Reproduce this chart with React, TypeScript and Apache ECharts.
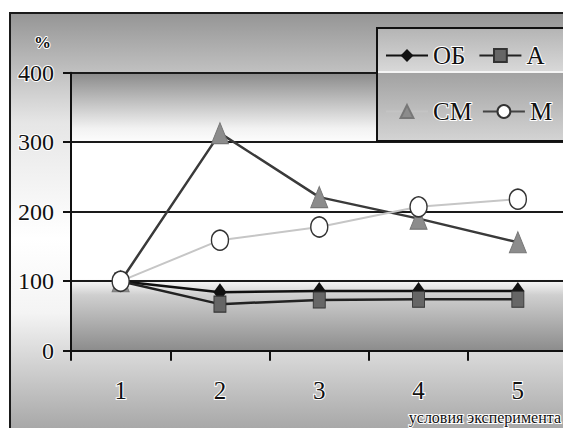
import React, { useEffect, useRef } from "react";
import * as echarts from "echarts";

const categories = ["1", "2", "3", "4", "5"];
const seriesNames = ["ОБ", "А", "СМ", "М"];
const obValues = [100, 84, 86, 86, 86];
const aValues = [100, 67, 73, 74, 74];
const smValues = [100, 313, 221, 190, 156];
const mValues = [100, 159, 178, 207, 218];
const yTicks = { min: 0, max: 400, interval: 100 };
const xAxisTitle = "условия эксперимента";
const yAxisTitle = "%";

const FONT = "'Liberation Serif', 'Times New Roman', serif";

export default function App() {
  const ref = useRef<HTMLDivElement>(null);
  useEffect(() => {
    document.body.style.margin = "0";
    const chart = echarts.init(ref.current!, null, { renderer: "svg" });
    chart.setOption({
      animation: false,
      graphic: [
        {
          type: "rect",
          z: -10,
          silent: true,
          shape: { x: 10, y: 13, width: 620, height: 500 },
          style: {
            fill: new echarts.graphic.LinearGradient(0, 0, 0, 1, [
              { offset: 0, color: "#959595" },
              { offset: 0.22, color: "#e6e6e6" },
              { offset: 0.45, color: "#ffffff" },
              { offset: 0.6, color: "#f4f4f4" },
              { offset: 0.83, color: "#a8a8a8" },
              { offset: 1, color: "#9a9a9a" },
            ]),
            stroke: "#1a1a1a",
            lineWidth: 2,
          },
        },
        {
          type: "rect",
          z: 3,
          silent: true,
          shape: { x: 377, y: 28, width: 260, height: 113 },
          style: {
            fill: new echarts.graphic.LinearGradient(0, 0, 0, 1, [
              { offset: 0, color: "#b4b4b4" },
              { offset: 0.38, color: "#d8d8d8" },
              { offset: 0.4, color: "#a2a2a2" },
              { offset: 1, color: "#d4d4d4" },
            ]),
            stroke: "#111",
            lineWidth: 2,
          },
        },
        {
          type: "line",
          z: 3,
          silent: true,
          shape: { x1: 378, y1: 72, x2: 563, y2: 72 },
          style: { stroke: "#f4f4f4", lineWidth: 2 },
        },
        {
          type: "text",
          z: 5,
          silent: true,
          x: 561,
          y: 417,
          style: {
            text: xAxisTitle,
            fontFamily: FONT,
            fontSize: 16,
            fill: "#111",
            align: "right",
            verticalAlign: "middle",
            stroke: "#fff",
            lineWidth: 2,
          },
        },
      ],
      legend: [
        {
          data: [seriesNames[0], seriesNames[1]],
          left: 380,
          top: 37,
          itemWidth: 42,
          itemHeight: 16,
          itemGap: 12,
          textStyle: { fontFamily: FONT, fontSize: 25, color: "#111", textBorderColor: "#fff", textBorderWidth: 2 },
        },
        {
          data: [
            { name: seriesNames[2], lineStyle: { color: "#c4c4c4" } },
            { name: seriesNames[3], lineStyle: { color: "#444" } },
          ],
          left: 380,
          top: 93,
          itemWidth: 42,
          itemHeight: 16,
          itemGap: 9,
          textStyle: { fontFamily: FONT, fontSize: 25, color: "#111", textBorderColor: "#fff", textBorderWidth: 2 },
        },
      ],
      grid: {
        left: 71,
        top: 72.7,
        right: -4.5,
        bottom: 77.3,
        outerBoundsMode: "none",
        containLabel: false,
        show: true,
        borderWidth: 0,
        backgroundColor: new echarts.graphic.LinearGradient(0, 0, 0, 1, [
          { offset: 0, color: "#8a8a8a" },
          { offset: 0.2, color: "#f2f2f2" },
          { offset: 0.26, color: "#ffffff" },
          { offset: 0.74, color: "#ffffff" },
          { offset: 0.8, color: "#cfcfcf" },
          { offset: 1, color: "#8c8c8c" },
        ]),
      },
      xAxis: {
        type: "category",
        data: categories,
        boundaryGap: true,
        axisLine: { show: true, lineStyle: { color: "#111", width: 2 } },
        axisTick: { show: true, length: 10, lineStyle: { color: "#111", width: 2 } },
        axisLabel: {
          fontFamily: FONT,
          fontSize: 25,
          color: "#111",
          margin: 27,
          textBorderColor: "#fff",
          textBorderWidth: 2,
        },
        splitLine: { show: false },
      },
      yAxis: {
        type: "value",
        min: yTicks.min,
        max: yTicks.max,
        interval: yTicks.interval,
        name: yAxisTitle,
        nameLocation: "end",
        nameGap: 30,
        nameTextStyle: {
          fontFamily: FONT,
          fontSize: 17,
          fontWeight: "bold",
          color: "#111",
          align: "right",
          verticalAlign: "middle",
          padding: [0, 20, 0, 0],
          textBorderColor: "#fff",
          textBorderWidth: 2,
        },
        axisLine: { show: true, lineStyle: { color: "#111", width: 2 } },
        axisTick: { show: true, length: 8, lineStyle: { color: "#111", width: 2 } },
        axisLabel: {
          fontFamily: FONT,
          fontSize: 24,
          color: "#111",
          margin: 17,
          textBorderColor: "#fff",
          textBorderWidth: 2,
        },
        splitLine: { show: true, lineStyle: { color: "#1a1a1a", width: 2 } },
      },
      series: [
        {
          name: seriesNames[0],
          type: "line",
          data: obValues,
          symbol: "diamond",
          symbolSize: [13, 18],
          lineStyle: { color: "#111", width: 2.5 },
          itemStyle: { color: "#111" },
        },
        {
          name: seriesNames[1],
          type: "line",
          data: aValues,
          symbol: "rect",
          symbolSize: [12, 16],
          lineStyle: { color: "#222", width: 2.5 },
          itemStyle: { color: "#666", borderColor: "#333", borderWidth: 1 },
        },
        {
          name: seriesNames[2],
          type: "line",
          data: smValues,
          symbol: "triangle",
          symbolSize: [17, 21],
          lineStyle: { color: "#3a3a3a", width: 2.5 },
          itemStyle: { color: "#8c8c8c", borderColor: "#777", borderWidth: 1 },
        },
        {
          name: seriesNames[3],
          type: "line",
          data: mValues,
          symbol: "circle",
          symbolSize: [17, 20],
          lineStyle: { color: "#c6c6c6", width: 2 },
          itemStyle: { color: "#fff", borderColor: "#333", borderWidth: 1.5 },
        },
      ],
    });
    return () => chart.dispose();
  }, []);
  return <div ref={ref} style={{ width: 563, height: 428 }} />;
}
